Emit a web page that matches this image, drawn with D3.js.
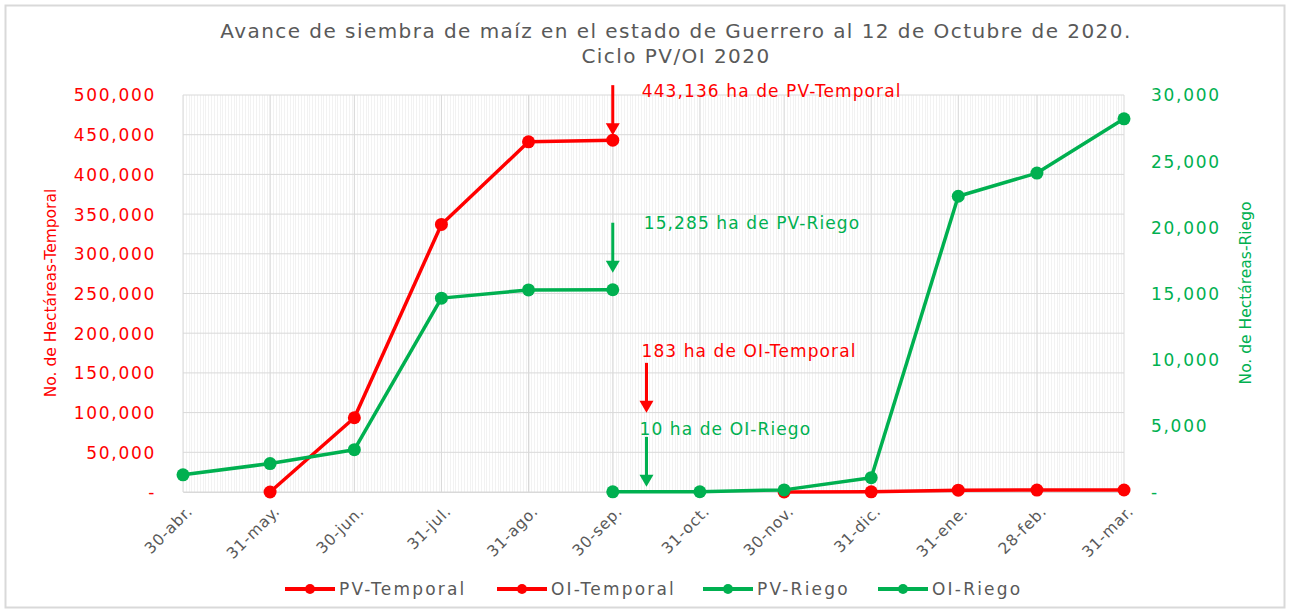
<!DOCTYPE html>
<html>
<head>
<meta charset="utf-8">
<script src="https://cdn.jsdelivr.net/npm/d3@7"></script>
<style>
  body { margin: 0; background: #fff; }
  text { font-family: "DejaVu Sans", sans-serif; }
</style>
</head>
<body>
<script>
// data
var tickDates = ["2020-04-30","2020-05-31","2020-06-30","2020-07-31","2020-08-31","2020-09-30",
                 "2020-10-31","2020-11-30","2020-12-31","2021-01-31","2021-02-28","2021-03-31"];
var tickLabels = ["30-abr.","31-may.","30-jun.","31-jul.","31-ago.","30-sep.",
                  "31-oct.","30-nov.","31-dic.","31-ene.","28-feb.","31-mar."];

var pvTemporalDates = ["2020-05-31","2020-06-30","2020-07-31","2020-08-31","2020-09-30"];
var pvTemporal = [0, 93500, 337000, 441000, 443136];

var oiTemporalDates = ["2020-11-30","2020-12-31","2021-01-31","2021-02-28","2021-03-31"];
var oiTemporal = [40, 183, 2300, 2400, 2500];

var pvRiegoDates = ["2020-04-30","2020-05-31","2020-06-30","2020-07-31","2020-08-31","2020-09-30"];
var pvRiego = [1300, 2150, 3200, 14650, 15270, 15285];

var oiRiegoDates = ["2020-09-30","2020-10-31","2020-11-30","2020-12-31","2021-01-31","2021-02-28","2021-03-31"];
var oiRiego = [10, 20, 160, 1080, 22350, 24100, 28200];

var leftTicks = [0,50000,100000,150000,200000,250000,300000,350000,400000,450000,500000];
var rightTicks = [0,5000,10000,15000,20000,25000,30000];

// annotation texts, anchored on a date and an axis value
var noteTexts = ["443,136 ha de PV-Temporal", "15,285 ha de PV-Riego", "183 ha de OI-Temporal", "10 ha de OI-Riego"];
var noteDates = ["2020-09-30", "2020-09-30", "2020-10-12", "2020-10-12"];
var noteAxis = ["L", "R", "L", "R"];
var noteValues = [443136, 15285, 183, 10];

var parse = d3.timeParse("%Y-%m-%d");
var red = "#ff0000", green = "#00b050", grey = "#595959";

var W = 1289, H = 614;
var pLeft = 183, pRight = 1124, pTop = 95, pBottom = 492;

var svg = d3.select("body").append("svg").attr("width", W).attr("height", H);

// chart border
svg.append("rect").attr("x", 5.5).attr("y", 5.5).attr("width", 1279).attr("height", 602)
  .attr("fill", "#fff").attr("stroke", "#d9d9d9").attr("stroke-width", 2);

var x = d3.scaleTime().domain([parse(tickDates[0]), parse(tickDates[tickDates.length-1])]).range([pLeft, pRight]);
var yL = d3.scaleLinear().domain([0, 500000]).range([pBottom, pTop]);
var yR = d3.scaleLinear().domain([0, 30000]).range([pBottom, pTop]);

// minor daily grid
var days = d3.timeDay.range(x.domain()[0], x.domain()[1]);
svg.append("g").selectAll("line").data(days).enter().append("line")
  .attr("x1", d => Math.round(x(d)) + 0.5).attr("x2", d => Math.round(x(d)) + 0.5)
  .attr("y1", pTop).attr("y2", pBottom)
  .attr("stroke", "#f2f2f2").attr("stroke-width", 1);

// major grid
svg.append("g").selectAll("line").data(tickDates).enter().append("line")
  .attr("x1", d => x(parse(d))).attr("x2", d => x(parse(d)))
  .attr("y1", pTop).attr("y2", pBottom)
  .attr("stroke", "#d9d9d9").attr("stroke-width", 1);
svg.append("g").selectAll("line").data(leftTicks).enter().append("line")
  .attr("x1", pLeft).attr("x2", pRight)
  .attr("y1", d => yL(d)).attr("y2", d => yL(d))
  .attr("stroke", "#d9d9d9").attr("stroke-width", 1);

// axes
var fmt = d => d === 0 ? "-" : d3.format(",")(d);
var axL = svg.append("g").attr("transform", "translate(" + (pLeft - 24) + ",0)")
  .call(d3.axisLeft(yL).tickValues(leftTicks).tickFormat(fmt).tickSize(0));
axL.select(".domain").remove();
axL.selectAll("text").attr("fill", red).attr("font-size", 17).attr("letter-spacing", 1.7).attr("dy", "0.35em");

var axR = svg.append("g").attr("transform", "translate(" + (pRight + 24) + ",0)")
  .call(d3.axisRight(yR).tickValues(rightTicks).tickFormat(fmt).tickSize(0));
axR.select(".domain").remove();
axR.selectAll("text").attr("fill", green).attr("font-size", 17).attr("letter-spacing", 1.7).attr("dy", "0.35em");

var axX = svg.append("g").attr("transform", "translate(0," + pBottom + ")")
  .call(d3.axisBottom(x).tickValues(tickDates.map(parse)).tickFormat((d, i) => tickLabels[i]).tickSize(0));
axX.select(".domain").attr("stroke", "#d9d9d9");
axX.selectAll("text").attr("fill", grey).attr("font-size", 15.5).attr("letter-spacing", 0.8)
  .attr("text-anchor", "end").attr("dy", 0)
  .attr("transform", "translate(8,18) rotate(-45)");

// axis titles
svg.append("text").attr("transform", "translate(56,293) rotate(-90)")
  .attr("text-anchor", "middle").attr("fill", red).attr("font-size", 15.5)
  .text("No. de Hectáreas-Temporal");
svg.append("text").attr("transform", "translate(1251,293) rotate(-90)")
  .attr("text-anchor", "middle").attr("fill", green).attr("font-size", 15.5)
  .text("No. de Hectáreas-Riego");

// title
svg.append("text").attr("x", 676).attr("y", 38).attr("text-anchor", "middle")
  .attr("fill", grey).attr("font-size", 20).attr("letter-spacing", 1.45)
  .text("Avance de siembra de maíz en el estado de Guerrero al 12 de Octubre de 2020.");
svg.append("text").attr("x", 676).attr("y", 63).attr("text-anchor", "middle")
  .attr("fill", grey).attr("font-size", 20).attr("letter-spacing", 1.45)
  .text("Ciclo PV/OI 2020");

// series
var series = [
  {dates: pvTemporalDates, vals: pvTemporal, y: yL, color: red},
  {dates: oiTemporalDates, vals: oiTemporal, y: yL, color: red},
  {dates: pvRiegoDates, vals: pvRiego, y: yR, color: green},
  {dates: oiRiegoDates, vals: oiRiego, y: yR, color: green}
];
series.forEach(function(s){
  var pts = s.dates.map((d, i) => [x(parse(d)), s.y(s.vals[i])]);
  svg.append("path").datum(pts)
    .attr("d", d3.line())
    .attr("fill", "none").attr("stroke", s.color).attr("stroke-width", 3.5)
    .attr("stroke-linejoin", "round");
  svg.append("g").selectAll("circle").data(pts).enter().append("circle")
    .attr("cx", d => d[0]).attr("cy", d => d[1]).attr("r", 6.5)
    .attr("fill", s.color);
});

// annotations with arrows (tip offsets / text placement per note)
var tipOffset = [-5, -17, -79, -5];
var textDy = [-38, -44, -56, -52];
var textDx = [29, 31, -5, -7];
noteTexts.forEach(function(t, i){
  var col = noteAxis[i] === "L" ? red : green;
  var ax = x(parse(noteDates[i]));
  var tipY = (noteAxis[i] === "L" ? yL : yR)(noteValues[i]) + tipOffset[i];
  var g = svg.append("g");
  g.append("line").attr("x1", ax).attr("x2", ax)
    .attr("y1", tipY - 50).attr("y2", tipY - 10)
    .attr("stroke", col).attr("stroke-width", 3);
  g.append("path")
    .attr("d", "M" + (ax - 7) + "," + (tipY - 12) + "L" + (ax + 7) + "," + (tipY - 12) + "L" + ax + "," + tipY + "Z")
    .attr("fill", col);
  g.append("text").attr("x", ax + textDx[i]).attr("y", tipY + textDy[i])
    .attr("fill", col).attr("font-size", 17).attr("letter-spacing", 1.1).text(t);
});

// legend
var legendNames = ["PV-Temporal", "OI-Temporal", "PV-Riego", "OI-Riego"];
var legendColors = [red, red, green, green];
var legendX = [285, 497, 703, 878];
var lg = svg.append("g").selectAll("g").data(legendNames).enter().append("g")
  .attr("transform", (d, i) => "translate(" + legendX[i] + ",589)");
lg.append("line").attr("x1", 0).attr("x2", 50).attr("stroke", (d, i) => legendColors[i]).attr("stroke-width", 4);
lg.append("circle").attr("cx", 25).attr("r", 5).attr("fill", (d, i) => legendColors[i]);
lg.append("text").attr("x", 54).attr("dy", "0.35em").attr("fill", grey).attr("font-size", 17)
  .attr("letter-spacing", 2.2).text(d => d);
</script>
</body>
</html>
